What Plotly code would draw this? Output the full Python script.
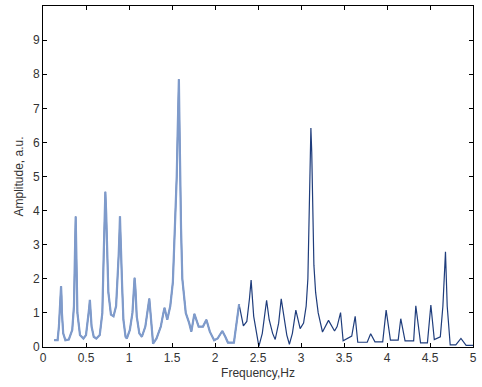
import plotly.graph_objects as go

# spectrum (frequency in Hz, amplitude in a.u.)
freq = [
    0.13, 0.17, 0.185, 0.195, 0.205, 0.21, 0.215, 0.22, 0.235, 0.26,
    0.30, 0.34, 0.36, 0.37, 0.375, 0.38, 0.385, 0.39, 0.40, 0.43,
    0.47, 0.50, 0.525, 0.535, 0.545, 0.555, 0.565, 0.59, 0.62, 0.66,
    0.69, 0.705, 0.715, 0.725, 0.735, 0.745, 0.76, 0.79, 0.82, 0.85,
    0.865, 0.88, 0.89, 0.895, 0.90, 0.91, 0.92, 0.935, 0.96, 0.975,
    1.01, 1.04, 1.055, 1.065, 1.075, 1.09, 1.12, 1.15, 1.19, 1.22,
    1.236, 1.25, 1.28, 1.32, 1.37, 1.40, 1.413, 1.445, 1.48, 1.51,
    1.535, 1.555, 1.565, 1.575, 1.58, 1.585, 1.595, 1.605, 1.62, 1.66,
    1.70, 1.725, 1.76, 1.81, 1.86, 1.90, 1.94, 1.99, 2.03, 2.085,
    2.12, 2.15, 2.22, 2.25, 2.28, 2.33, 2.37, 2.40, 2.42, 2.45,
    2.49, 2.51, 2.55, 2.58, 2.60, 2.63, 2.67, 2.70, 2.74, 2.77,
    2.80, 2.835, 2.865, 2.90, 2.94, 2.99, 3.03, 3.06, 3.08, 3.095,
    3.105, 3.115, 3.125, 3.135, 3.15, 3.17, 3.20, 3.25, 3.32, 3.39,
    3.42, 3.46, 3.49, 3.59, 3.63, 3.66, 3.77, 3.81, 3.86, 3.95,
    3.99, 4.04, 4.13, 4.16, 4.21, 4.31, 4.335, 4.39, 4.47, 4.51,
    4.55, 4.62, 4.65, 4.68, 4.70, 4.735, 4.80, 4.86, 4.92, 5.0,
]
amp = [
    0.2, 0.2, 0.6, 1.0, 1.5, 1.78, 1.5, 1.0, 0.4, 0.2,
    0.22, 0.5, 1.2, 2.1, 3.2, 3.83, 3.2, 2.1, 1.0, 0.35,
    0.25, 0.35, 0.8, 1.1, 1.38, 1.1, 0.6, 0.3, 0.25, 0.35,
    1.0, 2.6, 3.9, 4.55, 3.9, 2.8, 1.6, 0.95, 0.9, 1.2,
    1.8, 2.7, 3.4, 3.83, 3.4, 2.4, 1.8, 0.8, 0.3, 0.25,
    0.5, 1.0, 1.7, 2.03, 1.7, 0.9, 0.4, 0.3, 0.6, 1.1,
    1.42, 1.0, 0.1, 0.25, 0.6, 1.0, 1.15, 0.8, 1.2, 1.9,
    3.5, 5.0, 6.2, 7.3, 7.85, 6.9, 5.0, 3.5, 2.0, 1.0,
    0.7, 0.45, 0.97, 0.6, 0.6, 0.8, 0.45, 0.2, 0.25, 0.47,
    0.3, 0.13, 0.13, 0.7, 1.25, 0.62, 0.75, 1.4, 1.96, 0.9,
    0.3, 0.02, 0.4, 1.0, 1.37, 0.8, 0.4, 0.22, 0.7, 1.41,
    0.9, 0.35, 0.08, 0.4, 1.08, 0.54, 0.7, 1.2, 2.0, 4.0,
    5.6, 6.42, 5.7, 4.0, 2.4, 1.6, 1.0, 0.44, 0.78, 0.47,
    0.6, 1.01, 0.18, 0.32, 0.9, 0.14, 0.14, 0.39, 0.15, 0.15,
    1.08, 0.2, 0.2, 0.83, 0.18, 0.18, 1.21, 0.12, 0.12, 1.23,
    0.22, 0.3, 1.2, 2.79, 1.2, 0.06, 0.06, 0.25, 0.05, 0.05,
]

x_ticks = [0, 0.5, 1, 1.5, 2, 2.5, 3, 3.5, 4, 4.5, 5]
x_labels = ["0", "0.5", "1", "1.5", "2", "2.5", "3", "3.5", "4", "4.5", "5"]
y_ticks = [0, 1, 2, 3, 4, 5, 6, 7, 8, 9]

# the lighter, thicker trace only covers the low-frequency part
cut = 2.28
freq_low = [f for f in freq if f <= cut]
amp_low = amp[:len(freq_low)]

fig = go.Figure()
fig.add_trace(go.Scatter(x=freq, y=amp, mode="lines",
                         line=dict(color="#1f3d7c", width=1.2)))
fig.add_trace(go.Scatter(x=freq_low, y=amp_low, mode="lines",
                         line=dict(color="#7f9bcb", width=2.2)))

axis_style = dict(
    showline=True, linecolor="black", linewidth=1, mirror="allticks",
    ticks="inside", ticklen=4, tickcolor="black", showgrid=False,
    zeroline=False, tickfont=dict(size=12, color="#333333"),
)

fig.update_layout(
    width=482, height=387,
    margin=dict(l=43, r=5, t=5, b=40),
    paper_bgcolor="white", plot_bgcolor="white",
    showlegend=False,
    font=dict(family="Liberation Sans, Arial, sans-serif", color="#333333"),
    xaxis=dict(range=[0, 5], tickvals=x_ticks, ticktext=x_labels,
               tickangle=0,
               title=dict(text="Frequency,Hz", font=dict(size=12), standoff=4),
               **axis_style),
    yaxis=dict(range=[0, 10], tickvals=y_ticks,
               title=dict(text="Amplitude, a.u.", font=dict(size=12), standoff=6),
               **axis_style),
)

# page body has a default margin; drop it so the figure sits at the top-left
fig.write_html("out.html", config={"displayModeBar": False},
               post_script="document.body.style.margin='0';")
